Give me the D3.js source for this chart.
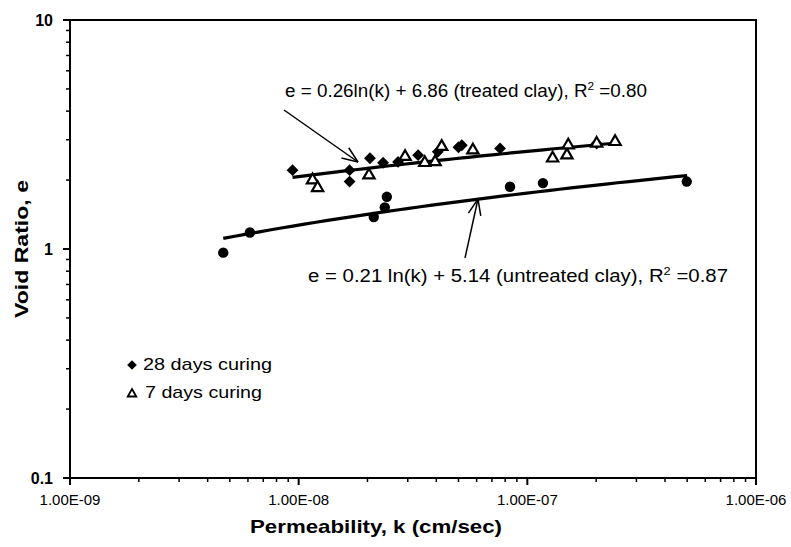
<!DOCTYPE html>
<html><head><meta charset="utf-8">
<script src="https://cdn.jsdelivr.net/npm/d3@7"></script>
<style>
body{margin:0;background:#fff;}
svg{display:block;font-family:"Liberation Sans",Arial,sans-serif;}
</style></head>
<body><svg id="c" width="791" height="547"></svg>
<script>
// ---- data ----
const xTickLabels = ["1.00E-09","1.00E-08","1.00E-07","1.00E-06"];
const xTickValues = [1e-9,1e-8,1e-7,1e-6];
const yTickLabels = ["0.1","1","10"];
const yTickValues = [0.1,1,10];

// 28 days curing (treated) - diamonds
const k28 = [9.4e-9,1.67e-8,1.67e-8,2.05e-8,2.34e-8,2.72e-8,3.33e-8,4.06e-8,5.0e-8,5.17e-8,7.6e-8,2.01e-7];
const e28 = [2.21,2.21,1.97,2.49,2.38,2.40,2.57,2.66,2.78,2.84,2.75,2.89];
// 7 days curing (treated) - open triangles
const k7 = [1.15e-8,1.21e-8,2.03e-8,2.92e-8,3.56e-8,3.95e-8,4.22e-8,5.78e-8,1.29e-7,1.49e-7,1.51e-7,2.01e-7,2.42e-7];
const e7 = [2.00,1.85,2.10,2.53,2.38,2.40,2.80,2.70,2.49,2.57,2.84,2.89,2.94];
// untreated clay - filled circles
const kU = [4.68e-9,6.12e-9,2.13e-8,2.38e-8,2.43e-8,8.4e-8,1.17e-7,4.98e-7];
const eU = [0.964,1.18,1.38,1.52,1.69,1.87,1.94,1.97];

// regression coefficients shown on chart: e = a ln(k) + b, and fitted k-range
const fitTreated = [0.26, 6.86];
const fitTreatedRange = [9.4e-9, 2.45e-7];
const fitUntreated = [0.21, 5.14];
const fitUntreatedRange = [4.68e-9, 5.0e-7];

// ---- layout ----
const svg = d3.select("#c");
const L=70, R=756, T=20, B=478;
const x = d3.scaleLog().domain([1e-9,1e-6]).range([L,R]);
const y = d3.scaleLog().domain([0.1,10]).range([B,T]);

// frame
svg.append("rect").attr("x",L).attr("y",T).attr("width",R-L).attr("height",B-T)
  .attr("fill","none").attr("stroke","#000").attr("stroke-width",2);

// x axis ticks
const xMinor = [];
for (let d=-9; d<-6; d++) for (let m=2; m<=9; m++) xMinor.push(m*Math.pow(10,d));
const gx = svg.append("g").attr("transform",`translate(0,${B})`);
gx.selectAll("line.mn").data(xMinor).enter().append("line")
  .attr("x1",d=>x(d)).attr("x2",d=>x(d)).attr("y1",0).attr("y2",4)
  .attr("stroke","#000").attr("stroke-width",1.5);
gx.selectAll("line.mj").data(xTickValues).enter().append("line")
  .attr("x1",d=>x(d)).attr("x2",d=>x(d)).attr("y1",0).attr("y2",7)
  .attr("stroke","#000").attr("stroke-width",2);
gx.selectAll("text").data(xTickValues).enter().append("text")
  .attr("x",d=>x(d)).attr("y",27).attr("text-anchor","middle")
  .attr("font-size",15).text((d,i)=>xTickLabels[i]);

// y axis ticks
const yMinor = [];
for (let d=-1; d<1; d++) for (let m=2; m<=9; m++) yMinor.push(m*Math.pow(10,d));
const gy = svg.append("g").attr("transform",`translate(${L},0)`);
gy.selectAll("line.mn").data(yMinor).enter().append("line")
  .attr("y1",d=>y(d)).attr("y2",d=>y(d)).attr("x1",0).attr("x2",-4)
  .attr("stroke","#000").attr("stroke-width",1.5);
gy.selectAll("line.mj").data(yTickValues).enter().append("line")
  .attr("y1",d=>y(d)).attr("y2",d=>y(d)).attr("x1",0).attr("x2",-7)
  .attr("stroke","#000").attr("stroke-width",2);
gy.selectAll("text").data(yTickValues).enter().append("text")
  .attr("x",-17).attr("y",d=>y(d)+6).attr("text-anchor","end")
  .attr("font-size",16).attr("font-weight","bold").text((d,i)=>yTickLabels[i]);

// axis titles
svg.append("text").attr("x",376).attr("y",533).attr("text-anchor","middle")
  .attr("font-size",19).attr("font-weight","bold")
  .attr("textLength",252).attr("lengthAdjust","spacingAndGlyphs")
  .text("Permeability, k (cm/sec)");
svg.append("text").attr("transform","translate(28,249) rotate(-90)")
  .attr("text-anchor","middle").attr("font-size",18).attr("font-weight","bold")
  .attr("textLength",138).attr("lengthAdjust","spacingAndGlyphs")
  .text("Void Ratio, e");

// trend lines
function fitPts(c, r){
  const lo=Math.log10(r[0]), hi=Math.log10(r[1]);
  return d3.range(0,41).map(i=>{const k=Math.pow(10,lo+(hi-lo)*i/40);return [k, c[0]*Math.log(k)+c[1]];});
}
const line = d3.line().x(d=>x(d[0])).y(d=>y(d[1]));
[[fitTreated,fitTreatedRange],[fitUntreated,fitUntreatedRange]].forEach(([c,r])=>{
  svg.append("path").attr("d",line(fitPts(c,r))).attr("fill","none")
    .attr("stroke","#000").attr("stroke-width",3.2);
});

// markers
const diamond = d3.symbol().type(d3.symbolDiamond2).size(90);
const tri = d3.symbol().type(d3.symbolTriangle).size(55);
svg.append("g").selectAll("path").data(k28).enter().append("path")
  .attr("transform",(d,i)=>`translate(${x(d)},${y(e28[i])})`).attr("d",diamond).attr("fill","#000");
svg.append("g").selectAll("path").data(k7).enter().append("path")
  .attr("transform",(d,i)=>`translate(${x(d)},${y(e7[i])})`).attr("d",tri)
  .attr("fill","#fff").attr("stroke","#000").attr("stroke-width",2.2);
svg.append("g").selectAll("circle").data(kU).enter().append("circle")
  .attr("cx",d=>x(d)).attr("cy",(d,i)=>y(eU[i])).attr("r",5.2).attr("fill","#000");

// annotations
function arrow(x1,y1,x2,y2,len){
  const a=Math.atan2(y2-y1,x2-x1), s=0.38;
  svg.append("line").attr("x1",x1).attr("y1",y1).attr("x2",x2).attr("y2",y2)
    .attr("stroke","#000").attr("stroke-width",1.5);
  [a+Math.PI-s, a+Math.PI+s].forEach(b=>{
    svg.append("line").attr("x1",x2).attr("y1",y2)
      .attr("x2",x2+len*Math.cos(b)).attr("y2",y2+len*Math.sin(b))
      .attr("stroke","#000").attr("stroke-width",1.5);
  });
}
arrow(284,110,358,162,17);
arrow(465,258,478,199,17);

function eqText(xp,yp,main,tail,w){
  const t=svg.append("text").attr("x",xp).attr("y",yp).attr("font-size",17.5)
    .attr("textLength",w).attr("lengthAdjust","spacingAndGlyphs");
  t.append("tspan").text(main);
  t.append("tspan").attr("font-size",11).attr("dy",-7).text("2");
  t.append("tspan").attr("dy",7).text(tail);
}
eqText(285,97,"e = 0.26ln(k) + 6.86 (treated clay), R"," =0.80",362);
eqText(308,282,"e = 0.21 ln(k) + 5.14 (untreated clay), R"," =0.87",420);

// legend
svg.append("path").attr("transform","translate(132,365)")
  .attr("d",d3.symbol().type(d3.symbolDiamond2).size(60)).attr("fill","#000");
svg.append("text").attr("x",143).attr("y",370).attr("font-size",17)
  .attr("textLength",129).attr("lengthAdjust","spacingAndGlyphs").text("28 days curing");
svg.append("path").attr("transform","translate(132,394)")
  .attr("d",d3.symbol().type(d3.symbolTriangle).size(32))
  .attr("fill","#fff").attr("stroke","#000").attr("stroke-width",1.8);
svg.append("text").attr("x",145).attr("y",398).attr("font-size",17)
  .attr("textLength",117).attr("lengthAdjust","spacingAndGlyphs").text("7 days curing");
</script></body></html>
